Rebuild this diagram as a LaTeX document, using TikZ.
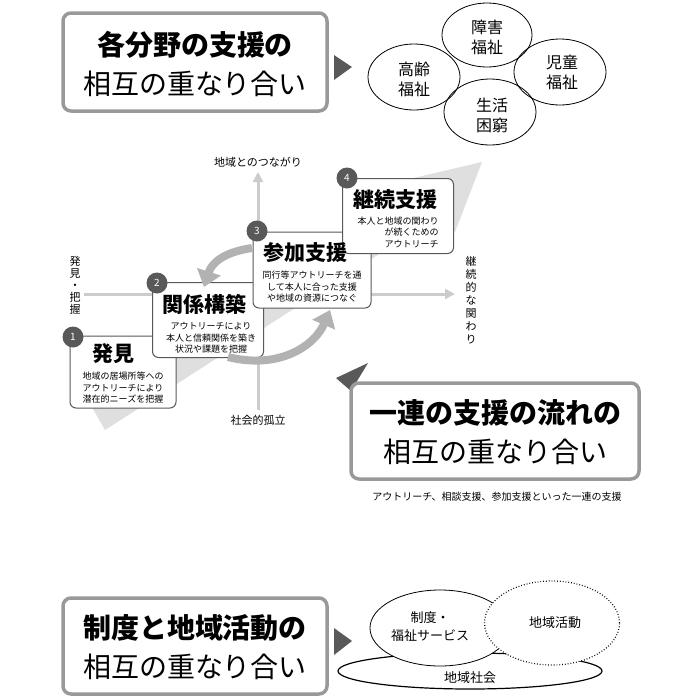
\documentclass[tikz,border=0pt]{standalone}
\usepackage{fontspec}
\setmainfont{Noto Sans CJK JP}
\usetikzlibrary{arrows.meta,shapes.geometric}
\definecolor{bord}{gray}{0.6}
\definecolor{dk}{gray}{0.35}
\tikzset{
 bigbox/.style={draw=bord,line width=3.5pt,rounded corners=8pt,fill=white},
 stepbox/.style={draw=dk,line width=1pt,rounded corners=6pt,fill=white},
 num/.style={circle,fill=dk,text=white,minimum size=21pt,inner sep=0pt,font=\fontsize{10}{10}\selectfont},
 tri/.style={fill=dk,draw=none},
 ell/.style={draw,ellipse,line width=0.8pt},
 txt/.style={align=center,inner sep=0pt},
 big/.style={txt,font=\fontsize{28}{28}\selectfont},
 head/.style={txt,font=\fontsize{21}{21}\selectfont\bfseries},
 desc/.style={txt,font=\fontsize{9}{11.5}\selectfont},
 curv/.style={gray!60,line width=8pt,-{Triangle[length=16pt,width=24pt]}},
}
\begin{document}
\begin{tikzpicture}[x=1pt,y=-1pt]
\useasboundingbox (0,0) rectangle (690,697);
% top
\node[bigbox,minimum width=264pt,minimum height=98pt] (b1) at (195,62) {};
\node[big,font=\fontsize{28}{28}\selectfont\bfseries] (b1a) at (195,45) {各分野の支援の};
\node[big] (b1b) at (195,84) {相互の重なり合い};
\fill[tri] (334,55) -- (352,67) -- (334,80) -- cycle;
\node[ell,minimum width=90pt,minimum height=64pt] (e1) at (487,35) {};
\node[ell,minimum width=92pt,minimum height=66pt] (e2) at (414,77) {};
\node[ell,minimum width=92pt,minimum height=66pt] (e3) at (560,72) {};
\node[ell,minimum width=92pt,minimum height=66pt] (e4) at (490,112) {};
\node[txt,font=\fontsize{16}{20}\selectfont] (t1) at (487,37) {障害\\福祉};
\node[txt,font=\fontsize{16}{20}\selectfont] (t2) at (414,79) {高齢\\福祉};
\node[txt,font=\fontsize{16}{20}\selectfont] (t3) at (562,72) {児童\\福祉};
\node[txt,font=\fontsize{16}{20}\selectfont] (t4) at (492,115) {生活\\困窮};
% big diagonal arrow
\fill[gray!25] (85,395) -- (415,205) -- (405,180) -- (482,162) -- (455,232) -- (440,215) -- (105,430) -- cycle;
% axes
\coordinate (vb) at (258,410); \coordinate (vt) at (258,172);
\coordinate (hl) at (84,294); \coordinate (hr) at (455,294);
\draw[gray!40,line width=3pt,-{Triangle[length=10pt,width=10pt]}] (vb) -- (vt);
\draw[gray!40,line width=3pt,-{Triangle[length=10pt,width=10pt]}] (hl) -- (hr);
\node[txt,font=\fontsize{11}{11}\selectfont] (ax1) at (258,162) {地域とのつながり};
\node[txt,font=\fontsize{11}{11}\selectfont] (ax2) at (258,420) {社会的孤立};
\node[txt,font=\fontsize{11}{12}\selectfont] (ax3) at (75,285) {発\\見\\・\\把\\握};
\node[txt,font=\fontsize{11}{13}\selectfont] (ax4) at (471,300) {継\\続\\的\\な\\関\\わ\\り};
% step boxes
\node[stepbox,minimum width=106pt,minimum height=72pt] (s1) at (123,372) {};
\node[stepbox,minimum width=111pt,minimum height=75pt] (s2) at (208,320) {};
\node[stepbox,minimum width=118pt,minimum height=76pt] (s3) at (312,270) {};
\node[stepbox,minimum width=111pt,minimum height=75pt] (s4) at (398,216) {};
% curved arrows
\draw[curv] (252,248) .. controls (225,252) and (212,262) .. (204,287);
\draw[curv] (228,357) .. controls (280,370) and (315,345) .. (330,310);
\node[num] (n1) at (73,337) {1};
\node[num] (n2) at (157,283) {2};
\node[num] (n3) at (257,231) {3};
\node[num] (n4) at (347,178) {4};
\node[head] (h1) at (113,354) {発見};
\node[desc] (d1) at (123,388) {地域の居場所等への\\アウトリーチにより\\潜在的ニーズを把握};
\node[head] (h2) at (204,304) {関係構築};
\node[desc] (d2) at (211,338) {アウトリーチにより\\本人と信頼関係を築き\\状況や課題を把握};
\node[head] (h3) at (305,253) {参加支援};
\node[desc] (d3) at (312,287) {同行等アウトリーチを通\\して本人に合った支援\\や地域の資源につなぐ};
\node[head] (h4) at (395,200) {継続支援};
\node[desc,align=right] (d4) at (398,232) {本人と地域の関わり\\が続くための\\アウトリーチ\hspace{8pt}};
% middle right box
\fill[tri] (336,378) -- (368,363) -- (351,391) -- cycle;
\node[bigbox,minimum width=288pt,minimum height=96pt] (b2) at (495,431) {};
\node[big,font=\fontsize{28}{28}\selectfont\bfseries] (b2a) at (495,413) {一連の支援の流れの};
\node[big] (b2b) at (495,452) {相互の重なり合い};
\node[txt,font=\fontsize{10}{10}\selectfont] (cap) at (497,497) {アウトリーチ、相談支援、参加支援といった一連の支援};
% bottom
\node[bigbox,minimum width=264pt,minimum height=96pt] (b3) at (195,646) {};
\node[big,font=\fontsize{28}{28}\selectfont\bfseries] (b3a) at (195,628) {制度と地域活動の};
\node[big] (b3b) at (195,667) {相互の重なり合い};
\fill[tri] (334,628) -- (352,641) -- (334,655) -- cycle;
\node[ell,line width=1.2pt,minimum width=264pt,minimum height=36pt] (e5) at (470,671) {};
\node[ell,fill=white,minimum width=140pt,minimum height=76pt] (e6) at (440,628) {};
\node[ell,fill=white,dotted,line width=1.2pt,minimum width=135pt,minimum height=84pt] (e7) at (552,623) {};
\node[txt,font=\fontsize{13}{16}\selectfont] (t5) at (470,678) {地域社会};
\node[txt,font=\fontsize{13}{18}\selectfont] (t6) at (430,627) {制度・\\福祉サービス};
\node[txt,font=\fontsize{13}{13}\selectfont] (t7) at (555,623) {地域活動};
\end{tikzpicture}
\end{document}
